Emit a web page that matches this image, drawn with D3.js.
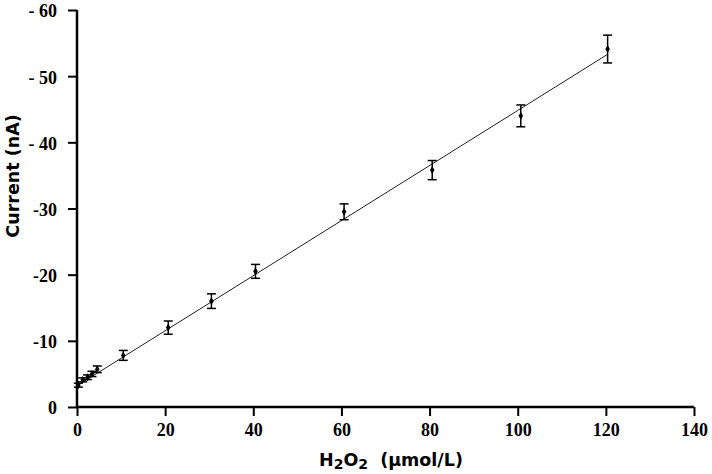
<!DOCTYPE html>
<html>
<head>
<meta charset="utf-8">
<script src="https://cdn.jsdelivr.net/npm/d3@7"></script>
<style>
  body { margin: 0; background: #fff; }
  #myPlot { width: 712px; height: 474px; }
  .axislabel { font-family: "DejaVu Sans", Verdana, sans-serif; font-weight: bold; font-size: 17.5px; fill: #000; }
</style>
</head>
<body>
<div id="myPlot"></div>
<script>
// Data (H2O2 concentration vs. current magnitude)
const conc = [0.3, 1.3, 2.4, 3.4, 4.6, 10.5, 20.7, 30.5, 40.5, 60.6, 80.6, 100.7, 120.4];
const current = [3.3, 4.1, 4.5, 5.0, 5.7, 7.8, 12.0, 16.0, 20.5, 29.5, 35.8, 44.0, 54.1];
const errs = [0.3, 0.3, 0.35, 0.4, 0.5, 0.75, 1.0, 1.1, 1.05, 1.2, 1.45, 1.65, 2.1];
// Fitted line endpoints (x, y)
const fitX = [0, 120.4];
const fitY = [3.2, 53.3];
const xTicks = [0, 20, 40, 60, 80, 100, 120, 140];
const yTicks = [0, 10, 20, 30, 40, 50, 60];
const yTickLabels = ["0", "-10", "-20", "-30", "- 40", "- 50", "- 60"];

const xSize = 712, ySize = 474;

const svg = d3.select("#myPlot")
  .append("svg")
  .attr("width", xSize)
  .attr("height", ySize);

const x = d3.scaleLinear().domain([0, 140]).range([77, 694]);
const y = d3.scaleLinear().domain([0, 60]).range([407, 10]);

// Y Axis
const yAxis = svg.append("g")
  .attr("transform", "translate(" + x(0) + ",0)")
  .call(d3.axisLeft(y).tickValues(yTicks).tickSize(9).tickPadding(11)
    .tickFormat(function (d, i) { return yTickLabels[i]; }));

// X Axis
const xAxis = svg.append("g")
  .attr("transform", "translate(0," + y(0) + ")")
  .call(d3.axisBottom(x).tickValues(xTicks).tickSize(9).tickPadding(7));

[xAxis, yAxis].forEach(function (ax) {
  ax.select(".domain").remove();
  ax.selectAll(".tick line").attr("stroke", "#000").attr("stroke-width", 2);
  ax.selectAll(".tick text")
    .attr("font-family", "'Liberation Serif', 'Times New Roman', serif")
    .attr("font-size", 18)
    .attr("font-weight", "bold")
    .attr("fill", "#000");
});
// nudge the top label down a little so it is not clipped
yAxis.selectAll(".tick text").attr("dy", "0.38em");

// axis lines drawn separately (no end caps)
svg.append("line")
  .attr("x1", x(0)).attr("x2", x(0))
  .attr("y1", y(60)).attr("y2", y(0) + 1)
  .attr("stroke", "#000").attr("stroke-width", 2.5);
svg.append("line")
  .attr("x1", x(0)).attr("x2", x(140))
  .attr("y1", y(0)).attr("y2", y(0))
  .attr("stroke", "#000").attr("stroke-width", 2.5);

// Fit line
svg.append("line")
  .attr("x1", x(fitX[0])).attr("y1", y(fitY[0]))
  .attr("x2", x(fitX[1])).attr("y2", y(fitY[1]))
  .attr("stroke", "#222").attr("stroke-width", 1);

const data = conc.map(function (c, i) { return { x: c, y: current[i], e: errs[i] }; });

// Error bars
const eb = svg.append("g").selectAll("g")
  .data(data).enter()
  .append("g")
  .attr("stroke", "#000")
  .attr("stroke-width", 1.5);

eb.append("line")
  .attr("x1", function (d) { return x(d.x); })
  .attr("x2", function (d) { return x(d.x); })
  .attr("y1", function (d) { return y(d.y - d.e); })
  .attr("y2", function (d) { return y(d.y + d.e); });
eb.append("line")
  .attr("x1", function (d) { return x(d.x) - 4.5; })
  .attr("x2", function (d) { return x(d.x) + 4.5; })
  .attr("y1", function (d) { return y(d.y + d.e); })
  .attr("y2", function (d) { return y(d.y + d.e); });
eb.append("line")
  .attr("x1", function (d) { return x(d.x) - 4.5; })
  .attr("x2", function (d) { return x(d.x) + 4.5; })
  .attr("y1", function (d) { return y(d.y - d.e); })
  .attr("y2", function (d) { return y(d.y - d.e); });

// Diamond markers
svg.append("g")
  .selectAll("path")
  .data(data).enter()
  .append("path")
  .attr("d", d3.symbol().type(d3.symbolDiamond).size(18))
  .attr("transform", function (d) { return "translate(" + x(d.x) + "," + y(d.y) + ")"; })
  .attr("fill", "#000");

// Axis titles
const xl = svg.append("text")
  .attr("class", "axislabel")
  .attr("x", 319)
  .attr("y", 466);
xl.append("tspan").text("H");
xl.append("tspan").text("2").attr("dy", 3).attr("font-size", 14);
xl.append("tspan").text("O").attr("dy", -3);
xl.append("tspan").text("2").attr("dy", 3).attr("font-size", 14);
xl.append("tspan").text("\u00a0 (\u00b5mol/L)").attr("dy", -3);

svg.append("text")
  .attr("class", "axislabel")
  .attr("text-anchor", "middle")
  .attr("transform", "translate(19,176) rotate(-90)")
  .text("Current (nA)");
</script>
</body>
</html>
